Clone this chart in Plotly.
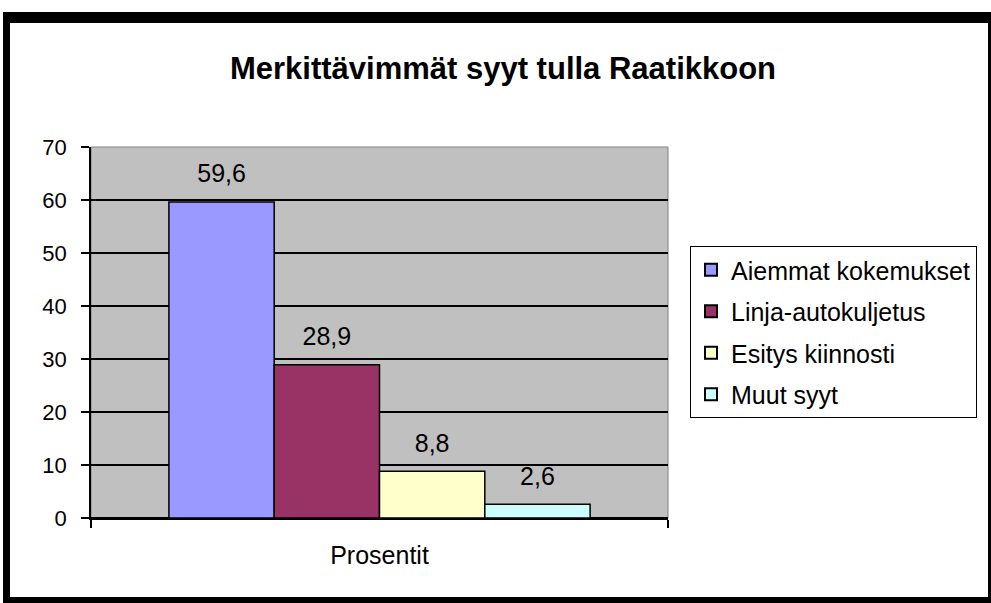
import plotly.graph_objects as go

categories = ["Prosentit"]
series_names = ["Aiemmat kokemukset", "Linja-autokuljetus", "Esitys kiinnosti", "Muut syyt"]
series_values = [59.6, 28.9, 8.8, 2.6]
series_colors = ["#9999FF", "#993366", "#FFFFCC", "#CCFFFF"]
y_ticks = [0, 10, 20, 30, 40, 50, 60, 70]

W, H = 991, 603
L, R, T, B = 91, 668, 147, 518
LABEL_LIFT = 2.2  # invisible spacer (in axis units) lifting each value label off its bar

def px_x(p):
    return (p - L) / (R - L)

def px_y(p):
    return (B - p) / (B - T)

FONT = "Liberation Sans, Arial"

fig = go.Figure()
for i, (name, val, col) in enumerate(zip(series_names, series_values, series_colors)):
    fig.add_trace(go.Bar(
        x=categories, y=[val], name=name, offsetgroup=str(i), legendgroup=name,
        marker=dict(color=col, line=dict(color="#000000", width=1.5)),
        hoverinfo="name+y",
    ))
    # transparent spacer sharing the bar's slot, carrying the value label above it
    fig.add_trace(go.Bar(
        x=categories, y=[LABEL_LIFT], base=[val], offsetgroup=str(i), legendgroup=name,
        marker=dict(color="rgba(0,0,0,0)", line=dict(width=0)),
        text=[f"{val}".replace(".", ",")], textposition="outside",
        textfont=dict(family=FONT, size=25, color="#000000"),
        cliponaxis=False, showlegend=False, hoverinfo="skip",
    ))

shapes = []
# outer thick black frame
for x0, y0, x1, y1 in [(3, 12, 991, 23), (3, 12, 10, 603), (988, 12, 991, 603), (3, 597, 991, 603)]:
    shapes.append(dict(type="rect", xref="paper", yref="paper",
                       x0=px_x(x0), x1=px_x(x1), y0=px_y(y0), y1=px_y(y1),
                       fillcolor="#000000", line=dict(width=0), layer="above"))
# plot area border (gray)
shapes.append(dict(type="rect", xref="paper", yref="paper", x0=0, x1=1, y0=0, y1=1,
                   line=dict(color="#808080", width=1), fillcolor="rgba(0,0,0,0)", layer="below"))

fig.update_layout(
    width=W, height=H,
    margin=dict(l=L, r=W - R, t=T, b=H - B, pad=0),
    paper_bgcolor="#FFFFFF", plot_bgcolor="#C0C0C0",
    barmode="group", bargap=0.27, bargroupgap=0,
    title=dict(text="<b>Merkittävimmät syyt tulla Raatikkoon</b>",
               xref="container", x=503 / W, xanchor="center",
               yref="container", y=1 - 68 / H, yanchor="middle",
               font=dict(family=FONT, size=31, color="#000000")),
    font=dict(family=FONT, color="#000000"),
    showlegend=True,
    legend=dict(x=px_x(690), xanchor="left", y=px_y(246), yanchor="top",
                bordercolor="#000000", borderwidth=1, bgcolor="#FFFFFF",
                font=dict(family=FONT, size=25, color="#000000"),
                traceorder="grouped", tracegroupgap=6, itemsizing="constant"),
    shapes=shapes,
)
fig.update_yaxes(range=[0, 70], tickvals=y_ticks, ticks="outside", ticklen=8,
                 tickcolor="#000000", tickwidth=1.5, ticklabelstandoff=10,
                 showline=True, linecolor="#000000", linewidth=1.5,
                 showgrid=True, gridcolor="#000000", gridwidth=1.5,
                 zeroline=True, zerolinecolor="#000000", zerolinewidth=1.5,
                 tickfont=dict(family=FONT, size=22, color="#000000"))
fig.update_xaxes(ticks="outside", tickson="boundaries", ticklen=8, tickcolor="#000000",
                 tickwidth=1.5, showline=True, linecolor="#000000", linewidth=1.5,
                 showgrid=False, ticklabelstandoff=14,
                 tickfont=dict(family=FONT, size=25, color="#000000"))

fig.write_html("out.html", config={"displayModeBar": False},
               post_script="document.body.style.margin='0';")
